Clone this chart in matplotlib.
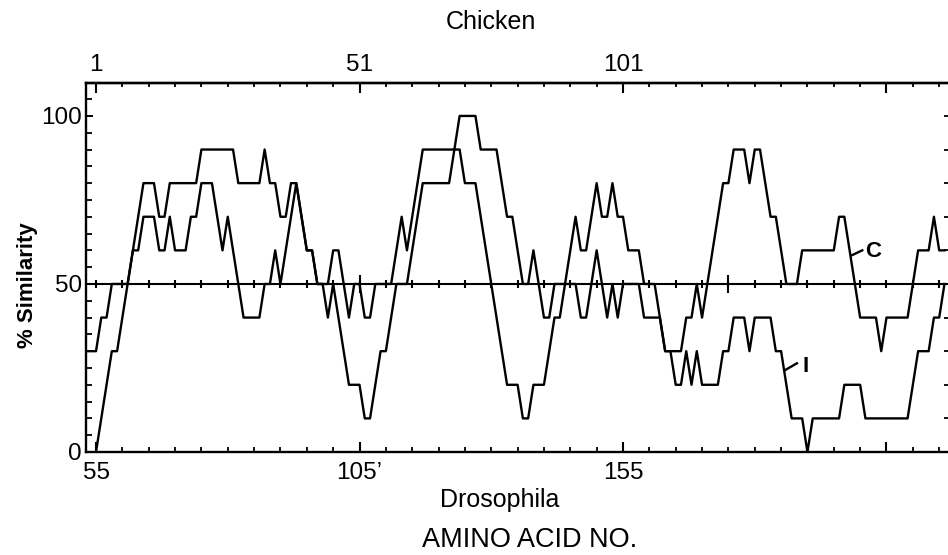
import numpy as np
import matplotlib
matplotlib.use('Agg')
import matplotlib.pyplot as plt
from matplotlib.ticker import FixedLocator, MultipleLocator

plt.rcParams['font.family'] = ['Liberation Sans', 'DejaVu Sans']

# residue numbers are Drosophila numbering; chicken numbering = drosophila - 54
chicken_offset = 54

# curve C, one value per residue starting at residue 53
c_start = 53
c_values = [30, 30, 30, 40, 40, 50, 50, 50, 50, 60, 70, 80, 80, 80, 70, 70, 80, 80, 80, 80,
            80, 80, 90, 90, 90, 90, 90, 90, 90, 80, 80, 80, 80, 80, 90, 80, 80, 70, 70, 80,
            80, 70, 60, 60, 50, 50, 50, 60, 60, 50, 40, 50, 50, 40, 40, 50, 50, 50, 50, 60,
            70, 60, 70, 80, 90, 90, 90, 90, 90, 90, 90, 90, 80, 80, 80, 70, 60, 50, 40, 30,
            20, 20, 20, 10, 10, 20, 20, 20, 30, 40, 40, 50, 60, 70, 60, 60, 70, 80, 70, 70,
            80, 70, 70, 60, 60, 60, 50, 50, 50, 40, 30, 30, 30, 30, 40, 40, 50, 40, 50, 60,
            70, 80, 80, 90, 90, 90, 80, 90, 90, 80, 70, 70, 60, 50, 50, 50, 60, 60, 60, 60,
            60, 60, 60, 70, 70, 60, 50, 40, 40, 40, 40, 30, 40, 40, 40, 40, 40, 50, 60, 60,
            60, 70, 60, 60]

# curve I, starting at residue 55
i_start = 55
i_values = [0, 10, 20, 30, 30, 40, 50, 60, 60, 70, 70, 70, 60, 60, 70, 60, 60, 60, 70, 70,
            80, 80, 80, 70, 60, 70, 60, 50, 40, 40, 40, 40, 50, 50, 60, 50, 60, 70, 80, 70,
            60, 60, 50, 50, 40, 50, 40, 30, 20, 20, 20, 10, 10, 20, 30, 30, 40, 50, 50, 50,
            60, 70, 80, 80, 80, 80, 80, 80, 90, 100, 100, 100, 100, 90, 90, 90, 90, 80, 70, 70,
            60, 50, 50, 60, 50, 40, 40, 50, 50, 50, 50, 50, 40, 40, 50, 60, 50, 40, 50, 40,
            50, 50, 50, 50, 40, 40, 40, 40, 30, 30, 20, 20, 30, 20, 30, 20, 20, 20, 20, 30,
            30, 40, 40, 40, 30, 40, 40, 40, 40, 30, 30, 20, 10, 10, 10, 0, 10, 10, 10, 10,
            10, 10, 20, 20, 20, 20, 10, 10, 10, 10, 10, 10, 10, 10, 10, 20, 30, 30, 30, 40,
            40, 50]

bottom_ticks = [55, 105, 155, 205]
bottom_labels = ['55', "105\u2019", '155', '']
top_ticks = [1, 51, 101, 151]
top_labels = ['1', '51', '101', '']
y_ticks = [0, 50, 100]
y_labels = ['0', '50', '100']
midline_big_ticks = [105, 175]

c_x = np.arange(c_start, c_start + len(c_values))
i_x = np.arange(i_start, i_start + len(i_values))

W, H = 948, 555
fig = plt.figure(figsize=(W / 100, H / 100), dpi=100)
ax = fig.add_axes([86 / W, 1 - 452 / H, (949 - 86) / W, (452 - 83) / H])

ax.plot(c_x, c_values, color='k', lw=1.7)
ax.plot(i_x, i_values, color='k', lw=1.7)

# 50 % reference line with its own small ticks
ax.axhline(50, color='k', lw=1.5)
mid_ticks = np.arange(55, 217, 5)
ax.vlines(mid_ticks, 48.7, 51.3, color='k', lw=1.5)
ax.vlines(midline_big_ticks, 47.2, 52.8, color='k', lw=1.5)

ax.set_xlim(53.1, 216.86)
ax.set_ylim(0, 109.8)

for side in ['left', 'top', 'bottom']:
    ax.spines[side].set_linewidth(1.7)
ax.spines['right'].set_visible(False)

ax.set_xticks(bottom_ticks)
ax.set_xticklabels(bottom_labels)
ax.xaxis.set_minor_locator(FixedLocator(mid_ticks))
ax.set_yticks(y_ticks)
ax.set_yticklabels(y_labels)
ax.yaxis.set_minor_locator(MultipleLocator(5))
ax.tick_params(axis='x', which='major', direction='in', length=7, width=1.5, labelsize=17.5, pad=7)
ax.tick_params(axis='x', which='minor', direction='in', length=3.5, width=1.3)
ax.tick_params(axis='y', which='major', direction='in', length=5, width=1.4, labelsize=17.5, pad=3)
ax.tick_params(axis='y', which='minor', direction='in', length=4.5, width=1.3)

top = ax.secondary_xaxis('top', functions=(lambda d: d - chicken_offset, lambda c: c + chicken_offset))
top.set_xticks(top_ticks)
top.set_xticklabels(top_labels)
top.xaxis.set_minor_locator(FixedLocator(mid_ticks - chicken_offset))
top.tick_params(which='major', direction='in', length=7, width=1.5, labelsize=17.5, pad=5)
top.tick_params(which='minor', direction='in', length=3, width=1.3)
top.spines['top'].set_linewidth(1.7)

right = ax.secondary_yaxis('right')
right.set_yticks(np.arange(0, 110, 10))
right.set_yticklabels([])
right.tick_params(direction='in', length=3.5, width=1.3)

# curve labels with short leader strokes
ax.plot([198.5, 200.4], [58.6, 60.0], color='k', lw=1.7)
ax.text(202.4, 59.8, 'C', fontsize=16, fontweight='bold', ha='center', va='center')
ax.plot([185.8, 188.0], [24.4, 26.4], color='k', lw=1.7)
ax.text(189.6, 25.3, 'I', fontsize=16, fontweight='bold', ha='center', va='center')

fig.text(491 / W, 1 - 22 / H, 'Chicken', fontsize=18, ha='center', va='center')
fig.text(500 / W, 1 - 500 / H, 'Drosophila', fontsize=18, ha='center', va='center')
fig.text(530 / W, 1 - 540 / H, 'AMINO ACID NO.', fontsize=19.5, ha='center', va='center')
fig.text(28 / W, 1 - 285 / H, '% Similarity', fontsize=16, fontweight='bold',
         rotation=90, ha='center', va='center')

fig.savefig('out.png', dpi=100)
